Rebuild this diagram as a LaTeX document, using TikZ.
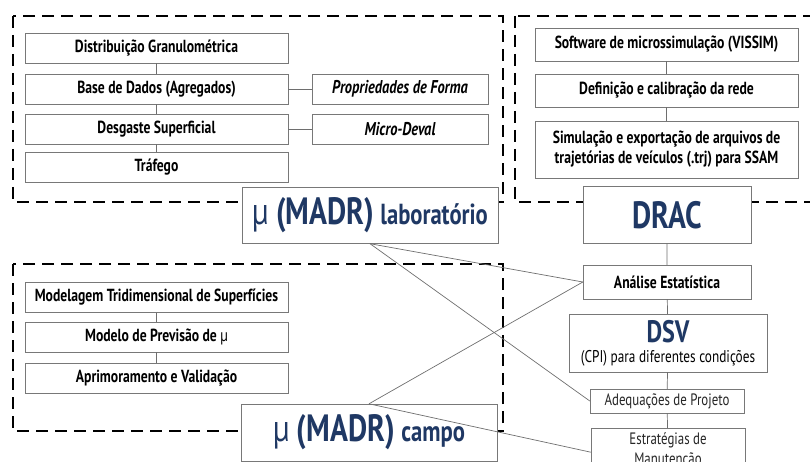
\documentclass[tikz,border=0pt]{standalone}
\usepackage{fontspec}
\setmainfont{PT Sans}[FakeStretch=0.78]
\usepackage{tikz}
\usetikzlibrary{positioning}

\definecolor{madrblue}{RGB}{31,56,100}
\definecolor{boxgray}{RGB}{120,120,120}
\definecolor{linkgray}{RGB}{110,110,110}

\begin{document}
\begin{tikzpicture}[x=1pt,y=-1pt,
		stage/.style={draw=boxgray, fill=white, inner sep=1pt, minimum height=30pt,
			text=black, font=\bfseries\fontsize{17.5}{20}\selectfont},
		left stage/.style={stage, minimum width=263pt},
		side stage/.style={stage, minimum width=176pt, font=\bfseries\itshape\fontsize{18.5}{20}\selectfont},
		plain stage/.style={stage, font=\fontsize{16.5}{20}\selectfont, text=black!85},
		big stage/.style={stage, text=madrblue, font=\bfseries\fontsize{38}{40}\selectfont},
		dash frame/.style={draw=black, line width=2.5pt, dash pattern=on 12pt off 7pt},
		link/.style={draw=linkgray, line width=0.7pt}
	]
	\clip (0,0) rectangle (810,462);
	\useasboundingbox (0,0) rectangle (810,462);

	% dashed groups
	\draw[dash frame] (13,16) rectangle (503,202);
	\draw[dash frame] (515,16) rectangle (840,202);
	\draw[dash frame] (13,264) rectangle (503,431);

	% laboratory group
	\node[left stage] (granul) at (156.5,48) {Distribuição Granulométrica};
	\node[left stage] (dados) at (156.5,89) {Base de Dados (Agregados)};
	\node[left stage] (desgaste) at (156.5,129) {Desgaste Superficial};
	\node[left stage] (trafego) at (156.5,167) {Tráfego};
	\node[side stage] (forma) at (400,89) {Propriedades de Forma};
	\node[side stage] (deval) at (400,129) {Micro-Deval};

	% simulation group
	\node[stage, minimum width=263pt, minimum height=33pt] (vissim) at (666.5,44.5) {Software de microssimulação (VISSIM)};
	\node[stage, minimum width=263pt, minimum height=33pt] (rede) at (666.5,90.5) {Definição e calibração da rede};
	\node[stage, minimum width=263pt, minimum height=57pt, align=center] (ssam) at (666.5,149.5)
		{Simulação e exportação de arquivos de\\trajetórias de veículos (.trj) para SSAM};

	% field group
	\node[left stage] (modelagem) at (156.5,297.5) {Modelagem Tridimensional de Superfícies};
	\node[left stage] (previsao) at (156.5,337) {Modelo de Previsão de {\mdseries µ}};
	\node[left stage] (aprimora) at (156.5,378) {Aprimoramento e Validação};

	% main blocks
	\node[big stage, minimum width=256pt, minimum height=56pt] (lab) at (370,215.5)
		{{\mdseries µ} (MADR)\,{\fontsize{29}{30}\selectfont laboratório}};
	\node[big stage, minimum width=256pt, minimum height=57pt] (campo) at (369,432.5)
		{{\mdseries µ} (MADR)\,{\fontsize{29}{30}\selectfont campo}};
	\node[big stage, minimum width=168pt, minimum height=57pt] (drac) at (667,215) {DRAC};
	\node[stage, minimum width=168pt, minimum height=34pt] (analise) at (667,282) {Análise Estatística};
	\node[stage, minimum width=198pt, minimum height=58pt, align=center, inner sep=0pt] (dsv) at (668,343)
		{{\color{madrblue}\bfseries\fontsize{31}{26}\selectfont DSV}\\
		 {\mdseries\fontsize{17}{18}\selectfont (CPI) para diferentes condições}};
	\node[plain stage, minimum width=154pt, minimum height=24pt] (projeto) at (667,401) {Adequações de Projeto};
	\node[plain stage, minimum width=154pt, minimum height=44pt, align=center, anchor=north, inner sep=2pt] (manut) at (668,428)
		{Estratégias de\\Manutenção};

	% vertical links
	\draw[link] (granul) -- (dados) -- (desgaste) -- (trafego);
	\draw[link] (dados) -- (forma);
	\draw[link] (desgaste) -- (deval);
	\draw[link] (vissim) -- (rede) -- (ssam);
	\draw[link] (modelagem) -- (previsao) -- (aprimora);
	\draw[link] (drac) -- (analise) -- (dsv) -- (projeto) -- (manut);

	% crossing links
	\draw[link] (lab.south) -- (analise.west);
	\draw[link] (lab.south) -- (projeto.west);
	\draw[link] (campo.north) -- (analise.west);
	\draw[link] (campo.north) -- ([yshift=-2pt]manut.west);
\end{tikzpicture}
\end{document}
